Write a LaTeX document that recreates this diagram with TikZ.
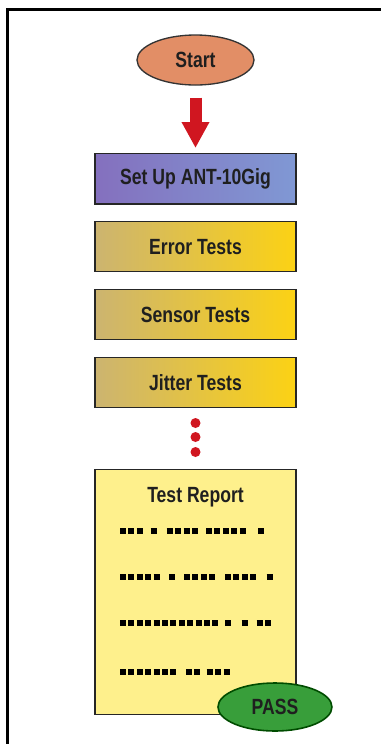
\documentclass[tikz,border=0pt]{standalone}
\usepackage{fontspec}
\setmainfont{Liberation Sans}[FakeStretch=0.8]
\usepackage{xcolor}
\usetikzlibrary{positioning,arrows.meta,shapes.geometric,calc}

\definecolor{startfill}{RGB}{226,142,102}
\definecolor{setl}{RGB}{132,112,190}
\definecolor{setr}{RGB}{128,152,212}
\definecolor{testl}{RGB}{204,180,112}
\definecolor{testr}{RGB}{252,210,20}
\definecolor{repfill}{RGB}{254,240,140}
\definecolor{passfill}{RGB}{56,158,58}
\definecolor{arrowred}{RGB}{208,22,32}

\tikzset{
  lbl/.style={font=\fontsize{16.5}{19}\selectfont\bfseries,text=black!88},
  oval/.style={ellipse,draw=black!80,line width=1pt,lbl},
  box/.style={rectangle,draw=black!85,line width=1.1pt,minimum width=151pt,minimum height=37.6pt,lbl},
  testbox/.style={box,left color=testl,right color=testr},
  sq/.style={line width=4.5pt,dash pattern=on 4.5pt off 1.8pt,black}
}

\begin{document}
\begin{tikzpicture}[x=0.75pt,y=-0.75pt,node distance=12.2pt]
    \useasboundingbox (0,0) rectangle (381,744);
    % Rahmen (nur links und oben sichtbar)
    \draw[line width=2.2pt] (7.5,744) |- (381,9.5);
    % Ablauf: Start -> Set Up -> Tests -> Report
    \node[oval,fill=startfill,minimum width=87.75pt,minimum height=37.5pt] (start) at (195.5,60) {Start};
    \node[box,left color=setl,right color=setr,below=50.5pt of start] (setup) {Set Up ANT-10Gig};
    \node[testbox,below=of setup] (err) {Error Tests};
    \node[testbox,below=of err] (sens) {Sensor Tests};
    \node[testbox,below=of sens] (jit) {Jitter Tests};
    \node[box,fill=repfill,minimum height=183.5pt,below=45.5pt of jit] (rep) {};
    \node[lbl] (ttl) at ([yshift=-21.5pt]rep.north) {Test Report};
    % Pfeil von Start zum ersten Schritt
    \draw[arrowred,line width=9pt,shorten <=9pt,shorten >=3.75pt,-{Triangle[length=19.5pt,width=19.5pt]}] (start) -- (setup);
    % Punkte zwischen Jitter Tests und Report
    \foreach \y in {423,437,452} {\fill[arrowred] (195.5,\y) circle (5);}
    % Platzhalterzeilen im Report
    \foreach \y/\grp in {531/{120/3,150.7/1,166.7/4,206/5,258.3/1},
                         577/{120/5,169.3/1,184/4,225/4,266.7/1},
                         623/{120/12,225/1,241.7/1,256.7/2},
                         672/{120/7,186/2,206.7/3}} {
      \foreach \x/\n in \grp {\draw[sq] (\x,\y) -- ++({\n*8.4-2.4},0);}
    }
    \node[oval,fill=passfill,draw=black!70!green,line width=1.2pt,minimum width=85.5pt,minimum height=36pt] (pass) at ([xshift=59.6pt,yshift=6pt]rep.south) {PASS};
\end{tikzpicture}
\end{document}
